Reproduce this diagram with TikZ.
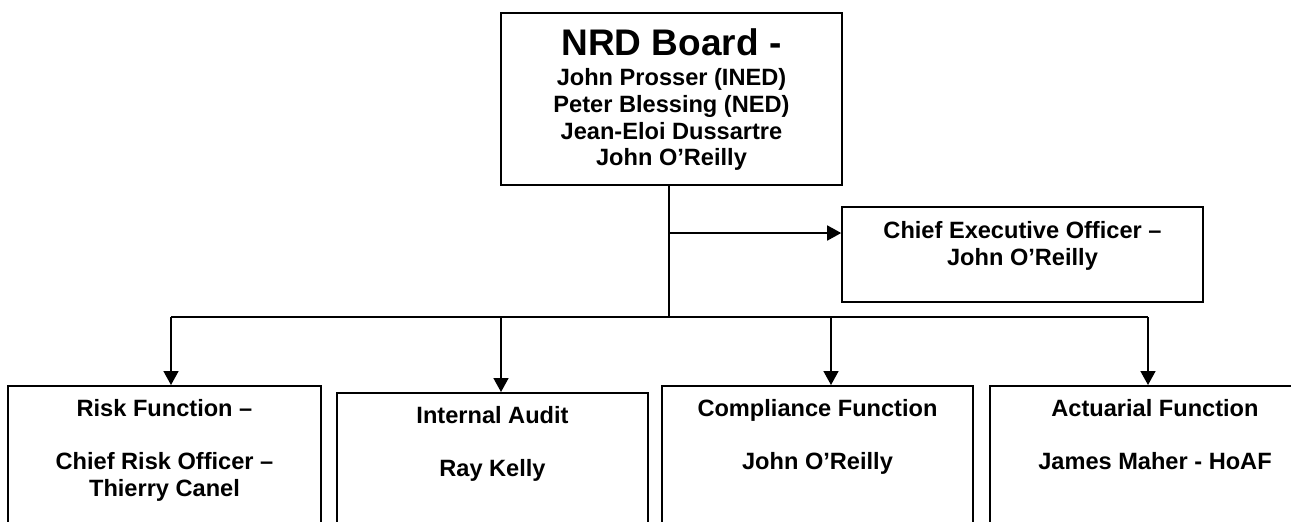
\documentclass[tikz,border=0pt]{standalone}
\usepackage{fontspec}
\setmainfont{Liberation Sans}
\usetikzlibrary{positioning}
\usetikzlibrary{arrows.meta}

\newcommand{\orgbody}{\fontsize{11.8}{13.35}\selectfont\bfseries}
\newcommand{\orgtitle}{\fontsize{18.5}{21}\selectfont\bfseries}

\tikzset{
    unit/.style={draw, line width=0.8pt, inner sep=0pt},
    unittext/.style={align=center, inner sep=0pt, font=\orgbody},
    link/.style={line width=0.8pt},
    arrow/.style={link, -{Triangle[length=7pt, width=7.5pt]}},
}

\begin{document}
\begin{tikzpicture}[x=0.5pt, y=-0.5pt]
        \useasboundingbox (0,0) rectangle (1291,521);
        \clip (0,0) rectangle (1291,521);

        \node[unit, minimum width=170.5pt, minimum height=86pt] (board) at (671.5,99) {};
        \node[unittext, below=7.5pt of board.north] (board-txt)
            {{\orgtitle\rule{0pt}{14pt}NRD Board -}\\[1.65pt]
             John Prosser (INED)\\ Peter Blessing (NED)\\ Jean-Eloi Dussartre\\ John O’Reilly};

        \node[unit, minimum width=180.5pt, minimum height=47.5pt] (ceo) at (1022.5,254.5) {};
        \node[unittext, below=6pt of ceo.north] (ceo-txt)
            {\rule{0pt}{10pt}Chief Executive Officer –\\ John O’Reilly};

        \node[unit, anchor=north, minimum width=156.5pt, minimum height=90pt] (risk) at (164.5,385) {};
        \node[unittext, below=5.5pt of risk.north] (risk-txt)
            {\rule{0pt}{10pt}Risk Function –\\[13.35pt] Chief Risk Officer –\\ Thierry Canel};

        \node[unit, anchor=north, minimum width=155.5pt, minimum height=90pt] (audit) at (492.5,392) {};
        \node[unittext, below=5.5pt of audit.north] (audit-txt)
            {\rule{0pt}{10pt}Internal Audit\\[13.35pt] Ray Kelly};

        \node[unit, anchor=north, minimum width=155.5pt, minimum height=90pt] (comp) at (817.5,385) {};
        \node[unittext, below=5.5pt of comp.north] (comp-txt)
            {\rule{0pt}{10pt}Compliance Function\\[13.35pt] John O’Reilly};

        \node[unit, anchor=north, minimum width=165pt, minimum height=90pt] (act) at (1155,385) {};
        \node[unittext, below=5.5pt of act.north] (act-txt)
            {\rule{0pt}{10pt}Actuarial Function\\[13.35pt] James Maher - HoAF};

        \coordinate (split) at (669,317);
        \coordinate (ceo-in) at (669,233);
        \draw[link] (board.south -| split) -- (split);
        \draw[arrow] (ceo-in) -- (ceo-in -| ceo.west);

        \foreach \n/\x in {risk/171, audit/501, comp/831, act/1148}
            \coordinate (bus-\n) at (\x,317);
        \draw[link] (bus-risk) -- (bus-act);
        \foreach \n in {risk, audit, comp, act}
            \draw[arrow] (bus-\n) -- (bus-\n |- \n.north);

\end{tikzpicture}
\end{document}
